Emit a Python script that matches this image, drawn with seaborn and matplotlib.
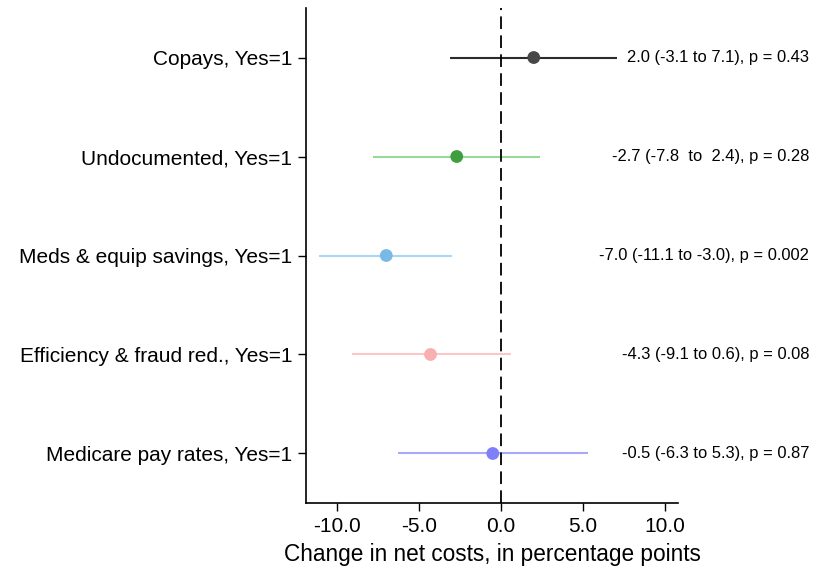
import matplotlib
matplotlib.use("Agg")
import matplotlib.pyplot as plt
import matplotlib.transforms as mtransforms
import pandas as pd
import seaborn as sns

labels = ["Copays, Yes=1", "Undocumented, Yes=1", "Meds & equip savings, Yes=1",
          "Efficiency & fraud red., Yes=1", "Medicare pay rates, Yes=1"]
estimates = [2.0, -2.7, -7.0, -4.3, -0.5]
ci_low = [-3.1, -7.8, -11.1, -9.1, -6.3]
ci_high = [7.1, 2.4, -3.0, 0.6, 5.3]
annotations = ["2.0 (-3.1 to 7.1), p = 0.43",
               "-2.7 (-7.8  to  2.4), p = 0.28",
               "-7.0 (-11.1 to -3.0), p = 0.002",
               "-4.3 (-9.1 to 0.6), p = 0.08",
               "-0.5 (-6.3 to 5.3), p = 0.87"]
point_colors = ["#474747", "#3f9f3f", "#79b9e6", "#f7afaf", "#7f7ffa"]
line_colors = ["#2b2b2b", "#98d898", "#a9d6f2", "#fbc6c6", "#a8a8fc"]

df = pd.DataFrame({"label": labels, "est": estimates, "lo": ci_low, "hi": ci_high})
df["pos"] = range(len(df))

sns.set_style("ticks")
plt.rcParams["font.family"] = ["Liberation Sans", "DejaVu Sans"]
plt.rcParams["text.color"] = "black"
plt.rcParams["axes.labelcolor"] = "black"
plt.rcParams["xtick.color"] = "black"
plt.rcParams["ytick.color"] = "black"

fig = plt.figure(figsize=(8.19, 5.73), dpi=100)
ax = fig.add_axes([0.3736, 0.1222, 0.4542, 0.8638])

ax.hlines(df["pos"], df["lo"], df["hi"], colors=line_colors, linewidth=1.5, zorder=2)
sns.scatterplot(data=df, x="est", y="pos", hue="label", palette=point_colors,
                s=85, edgecolor="none", legend=False, ax=ax, zorder=3)
ax.axvline(0, color="black", linestyle=(0, (7, 3.5)), linewidth=1.3, zorder=4)

ax.set_xlim(-11.9, 10.8)
ax.set_ylim(4.5, -0.5)
ax.set_yticks(df["pos"])
ax.set_yticklabels(labels, fontsize=15)
ax.set_xticks([-10, -5, 0, 5, 10])
ax.set_xticklabels(["-10.0", "-5.0", "0.0", "5.0", "10.0"], fontsize=15)
ax.set_xlabel("Change in net costs, in percentage points", fontsize=16.3, labelpad=5)
ax.set_ylabel("")
ax.tick_params(axis="both", length=6, width=1, color="black", pad=4)
for side in ["left", "bottom"]:
    ax.spines[side].set_linewidth(1.2)
    ax.spines[side].set_color("black")
sns.despine(ax=ax)

trans = mtransforms.blended_transform_factory(fig.transFigure, ax.transData)
for pos, txt in zip(df["pos"], annotations):
    ax.text(0.988, pos, txt, transform=trans, ha="right", va="center",
            fontsize=11.9, clip_on=False)

fig.savefig("out.png", dpi=100)
